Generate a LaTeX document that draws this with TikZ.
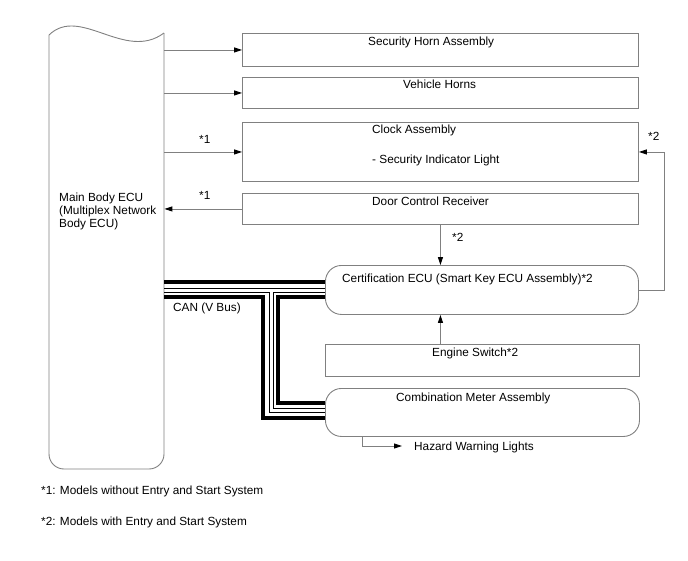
\documentclass[tikz,border=0pt]{standalone}
\usepackage{fontspec}
\setmainfont{Liberation Sans}
\usetikzlibrary{arrows.meta}
\definecolor{lc}{RGB}{128,128,128}
\begin{document}
\begin{tikzpicture}[x=1pt,y=-1pt,
  every node/.style={font=\fontsize{11.8}{13}\selectfont, inner sep=0pt, text=black},
  box/.style={draw=lc, line width=0.9pt, anchor=north west, minimum width=396pt},
  rbox/.style={draw=lc, line width=0.9pt, anchor=north west, minimum width=314pt, rounded corners=16pt},
  sbox/.style={draw=lc, line width=0.9pt, anchor=north west, minimum width=314pt},
  lbl/.style={anchor=base west},
  arr/.style={draw=lc, line width=0.9pt, -{Triangle[length=8pt,width=5pt,color=black]}},
  buswide/.style={draw=black, line width=4pt, line join=miter},
  busthin/.style={draw=black, line width=1pt, line join=miter}]
\useasboundingbox (0,0) rectangle (688,560);

% Main Body ECU
\node[minimum width=115pt, minimum height=444pt, anchor=north west] (ecu) at (49,25) {};
\draw[lc, line width=0.9pt] (49,35) .. controls (80,5) and (125,62) .. (164,33);
\draw[lc, line width=0.9pt, rounded corners=15pt] (164,33) -- (164,469) -- (49,469) -- (49,35);
\node[anchor=west, align=left] (ecut) at (59,211) {Main Body ECU\\(Multiplex Network\\Body ECU)};

% boxes
\node[box, minimum height=33pt] (horn) at (242,33) {};
\node[box, minimum height=31pt] (vh) at (242,77) {};
\node[box, minimum height=59pt] (clock) at (242,122) {};
\node[box, minimum height=31pt] (dcr) at (242,193) {};
\node[rbox, minimum width=313pt, minimum height=49pt] (cert) at (325,265) {};
\node[sbox, minimum height=32pt] (eng) at (325,344) {};
\node[rbox, minimum height=48pt] (cmb) at (325,388) {};

% texts
\node[lbl] (thorn) at (368,45) {Security Horn Assembly};
\node[lbl] (tvh) at (403,88) {Vehicle Horns};
\node[lbl] (tclk) at (372,133) {Clock Assembly};
\node[lbl] (tsil) at (372,163) {- Security Indicator Light};
\node[lbl] (tdcr) at (372,205) {Door Control Receiver};
\node[lbl] (tcert) at (342,282) {Certification ECU (Smart Key ECU Assembly)*2};
\node[lbl] (teng) at (432,356) {Engine Switch*2};
\node[lbl] (tcmb) at (396,401) {Combination Meter Assembly};
\node[lbl] (haz) at (414,450) {Hazard Warning Lights};
\node[lbl] (can) at (173,311) {CAN (V Bus)};
\node[lbl] (n1a) at (199,143) {*1};
\node[lbl] (n1b) at (199,199) {*1};
\node[lbl] (n2a) at (452,241) {*2};
\node[lbl] (n2b) at (648,140) {*2};
\node[lbl] (f1) at (41,494) {*1: Models without Entry and Start System};
\node[lbl] (f2) at (41,525) {*2: Models with Entry and Start System};

% connectors
\draw[arr] (ecu.east |- horn.west) -- (horn.west);
\draw[arr] (ecu.east |- vh.west) -- (vh.west);
\draw[arr] (ecu.east |- clock.west) -- (clock.west);
\draw[arr] (dcr.west) -- (ecu.east |- dcr.west);
\draw[arr] (dcr.south) -- (dcr.south |- cert.north);
\draw[arr] (dcr.south |- eng.north) -- (dcr.south |- cert.south);
\draw[arr] (cert.east) -- ++(26,0) |- (clock.east);
\coordinate (hzc) at (362,446);
\coordinate (hzt) at (402,446);
\draw[arr] (cmb.south -| hzc) |- (hzt);

% CAN bus
\draw[buswide] (164,282) -- (325,282);
\draw[busthin] (164,288) -- (325,288);
\draw[busthin] (164,292) -- (269,292) -- (269,412) -- (325,412);
\draw[busthin] (325,292) -- (273,292) -- (273,408) -- (325,408);
\draw[buswide] (164,297) -- (263,297) -- (263,418) -- (325,418);
\draw[buswide] (325,297) -- (278,297) -- (278,403) -- (325,403);
\end{tikzpicture}
\end{document}
